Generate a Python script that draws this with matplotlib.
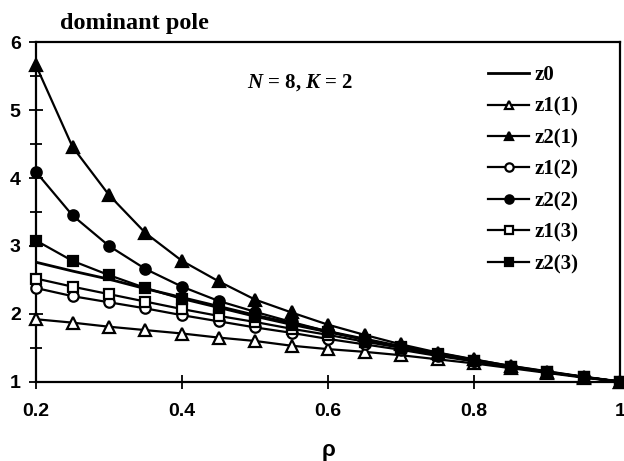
import matplotlib
matplotlib.use("Agg")
import matplotlib.pyplot as plt
from matplotlib.ticker import MultipleLocator, FuncFormatter

plt.rcParams["mathtext.fontset"] = "custom"
plt.rcParams["mathtext.it"] = "Liberation Serif:bold:italic"
plt.rcParams["mathtext.rm"] = "Liberation Serif:bold"

rho = [0.2, 0.25, 0.3, 0.35, 0.4, 0.45, 0.5, 0.55, 0.6, 0.65, 0.7, 0.75, 0.8, 0.85, 0.9, 0.95, 1.0]

z0   = [2.76, 2.63, 2.51, 2.37, 2.24, 2.11, 1.98, 1.86, 1.74, 1.63, 1.52, 1.42, 1.32, 1.23, 1.15, 1.07, 1.00]
z1_1 = [1.92, 1.87, 1.81, 1.76, 1.71, 1.65, 1.60, 1.53, 1.48, 1.44, 1.39, 1.33, 1.27, 1.20, 1.13, 1.06, 1.00]
z2_1 = [5.66, 4.46, 3.75, 3.19, 2.78, 2.48, 2.21, 2.02, 1.84, 1.69, 1.55, 1.43, 1.33, 1.23, 1.15, 1.07, 1.00]
z1_2 = [2.38, 2.26, 2.17, 2.08, 1.98, 1.89, 1.80, 1.72, 1.63, 1.55, 1.47, 1.38, 1.30, 1.22, 1.14, 1.07, 1.00]
z2_2 = [4.09, 3.45, 3.00, 2.66, 2.40, 2.19, 2.03, 1.88, 1.74, 1.62, 1.50, 1.40, 1.30, 1.22, 1.14, 1.07, 1.00]
z1_3 = [2.52, 2.40, 2.29, 2.18, 2.07, 1.97, 1.88, 1.78, 1.69, 1.59, 1.50, 1.40, 1.31, 1.22, 1.14, 1.07, 1.00]
z2_3 = [3.08, 2.78, 2.57, 2.38, 2.22, 2.09, 1.96, 1.84, 1.73, 1.62, 1.51, 1.41, 1.31, 1.22, 1.14, 1.07, 1.00]

labels = ["z0", "z1(1)", "z2(1)", "z1(2)", "z2(2)", "z1(3)", "z2(3)"]
series = [z0, z1_1, z2_1, z1_2, z2_2, z1_3, z2_3]
markers = [None, "^", "^", "o", "o", "s", "s"]
filled = [True, False, True, False, True, False, True]
msizes = [0, 8, 8, 7.5, 7.5, 7, 7]

fig = plt.figure(figsize=(6.24, 4.61), dpi=100)
W, H = 624, 461
left, right, top, bottom = 36, 620, 42.3, 381.7
ax = fig.add_axes([left / W, 1 - bottom / H, (right - left) / W, (bottom - top) / H])

for lab, ys, m, f, ms in zip(labels, series, markers, filled, msizes):
    if m is None:
        ax.plot(rho, ys, color="black", lw=2.0, label=lab, zorder=3)
    else:
        ax.plot(rho, ys, color="black", lw=1.6, marker=m, markersize=ms,
                markerfacecolor="black" if f else "white",
                markeredgecolor="black", markeredgewidth=1.6, label=lab,
                clip_on=False, zorder=3)

ax.set_xlim(0.2, 1.0)
ax.set_ylim(1, 6)
ax.xaxis.set_major_locator(MultipleLocator(0.2))
ax.yaxis.set_major_locator(MultipleLocator(1))
ax.yaxis.set_minor_locator(MultipleLocator(0.5))
ax.tick_params(axis="both", which="major", direction="inout", length=10, width=1.3,
               top=False, right=False)
ax.tick_params(axis="y", which="minor", direction="inout", length=8, width=1.3, right=False)
ax.tick_params(axis="x", pad=10)
ax.tick_params(axis="y", pad=6)
ax.xaxis.set_major_formatter(FuncFormatter(lambda v, p: "%g" % v))
for t in ax.get_xticklabels() + ax.get_yticklabels():
    t.set_fontfamily("Liberation Sans")
    t.set_fontweight("bold")
    t.set_fontsize(14)
for sp in ax.spines.values():
    sp.set_linewidth(1.6)

fig.text(60 / W, 1 - 23 / H, "dominant pole", family="Liberation Serif", weight="bold",
         fontsize=17.5, ha="left", va="center")
fig.text(300 / W, 1 - 83 / H, "$N$ = 8, $K$ = 2",
         family="Liberation Serif", weight="bold", fontsize=15, ha="center", va="center")
fig.text(329 / W, 1 - 450 / H, "ρ", family="Liberation Sans", weight="bold",
         fontsize=16, ha="center", va="center")

leg = ax.legend(loc="upper left", bbox_to_anchor=((480 - left) / (right - left), (bottom - 57) / (bottom - top)),
                frameon=False, prop={"family": "Liberation Serif", "weight": "bold", "size": 15},
                handlelength=1.95, handletextpad=0.28, labelspacing=0.55, borderaxespad=0,
                markerscale=0.8)

fig.savefig("out.png", dpi=100)
